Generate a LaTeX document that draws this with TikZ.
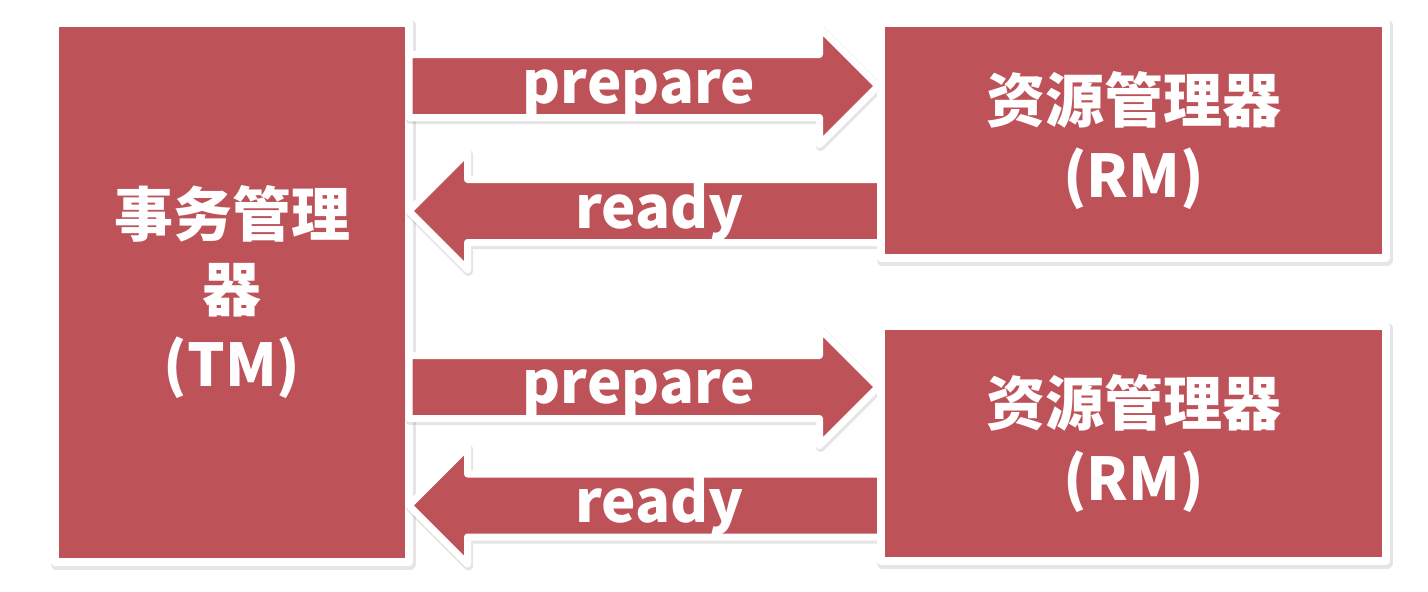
\documentclass[tikz,border=0pt]{standalone}
\usepackage{fontspec}
\newfontfamily\cjk{Noto Sans CJK SC}
\usepackage{tikz}
\usetikzlibrary{shapes.arrows}

\definecolor{tmred}{RGB}{190,82,89}

\begin{document}
\begin{tikzpicture}[x=1pt, y=-1pt,
    softshadow/.style={preaction={draw=black, draw opacity=0.10, fill=none, line width=#1,
        line join=round, transform canvas={xshift=1pt, yshift=-2pt}}},
    box/.style={rectangle, fill=tmred, draw=white, line width=8pt, line join=round,
        text=white, align=center, inner sep=0pt, outer sep=0pt, softshadow=11pt,
        font=\cjk\bfseries\fontsize{59}{75}\selectfont},
    bigarrow/.style={single arrow, fill=tmred, draw=white, line width=7pt, line join=round,
        inner xsep=0pt, inner ysep=28pt, outer sep=0pt, softshadow=9pt,
        single arrow head extend=27pt},
    msg/.style={text=white, inner sep=0pt, anchor=base,
        font=\cjk\bfseries\fontsize{58}{60}\selectfont}]

    \useasboundingbox (0,0) rectangle (1428,592);

    % transaction manager
    \node[box, minimum width=354pt, minimum height=539pt] (TM) at (232,292.5) {事务管理\\器\\(TM)};

    % prepare / ready arrows
    \node[bigarrow, anchor=tail, minimum height=469pt] (prep1) at (TM.east |- 0,86) {};
    \node[bigarrow, anchor=tip, shape border rotate=180, minimum height=472pt] (ready1) at (TM.east |- 0,211) {};
    \node[bigarrow, anchor=tail, minimum height=469pt] (prep2) at (TM.east |- 0,387) {};
    \node[bigarrow, anchor=tip, shape border rotate=180, minimum height=472pt] (ready2) at (TM.east |- 0,505.5) {};

    \node[msg] (prep1txt) at ([xshift=11pt, yshift=-17pt]prep1.center) {prepare};
    \node[msg] (ready1txt) at ([xshift=-1pt, yshift=-17pt]ready1.center) {ready};
    \node[msg] (prep2txt) at ([xshift=11pt, yshift=-16pt]prep2.center) {prepare};
    \node[msg] (ready2txt) at ([xshift=-1pt, yshift=-17pt]ready2.center) {ready};

    % resource managers
    \node[box, minimum width=505pt, minimum height=235pt] (RM1) at (1133.5,140.5) {资源管理器\\(RM)};
    \node[box, minimum width=505pt, minimum height=235pt] (RM2) at (1133.5,443.5) {资源管理器\\(RM)};
\end{tikzpicture}
\end{document}
